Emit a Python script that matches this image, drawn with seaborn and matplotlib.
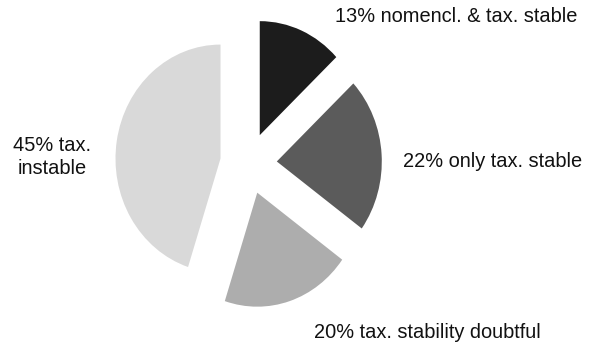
import matplotlib
matplotlib.use("Agg")
import matplotlib.pyplot as plt
import seaborn as sns

# Share of names by stability class
categories = ["nomencl. & tax. stable", "only tax. stable",
              "tax. stability doubtful", "tax.\ninstable"]
shares = [13, 22, 20, 45]
labels = [f"{v}% {c}" for v, c in zip(shares, categories)]

sns.set_theme(style="white")
plt.rcParams["font.family"] = ["Liberation Sans", "DejaVu Sans"]

colors = sns.color_palette(["#1c1c1c", "#5b5b5b", "#adadad", "#d9d9d9"])

W, H = 595, 345
fig = plt.figure(figsize=(W / 100, H / 100), dpi=100)
ax = fig.add_axes([0, 0, 1, 1])

ax.pie(shares, explode=[0.27] * len(shares), startangle=90,
       counterclock=False, colors=colors,
       wedgeprops=dict(linewidth=0))

# slightly taller than wide
rx, ry = 105.0, 114.0
cx, cy = 248.5, 163.4
ax.set_aspect("auto")
ax.set_xlim(-cx / rx, (W - cx) / rx)
ax.set_ylim(-(H - cy) / ry, cy / ry)
ax.axis("off")

label_pos = [
    (456, 16, "center"),
    (493, 162, "center"),
    (427, 333, "center"),
    (52, 157, "center"),
]
for text, (px, py, ha) in zip(labels, label_pos):
    ax.text(px / W, 1 - py / H, text, transform=ax.transAxes,
            ha=ha, va="center", fontsize=14.4, color="#111111",
            linespacing=1.3, multialignment="center")

fig.savefig("out.png", dpi=100)
